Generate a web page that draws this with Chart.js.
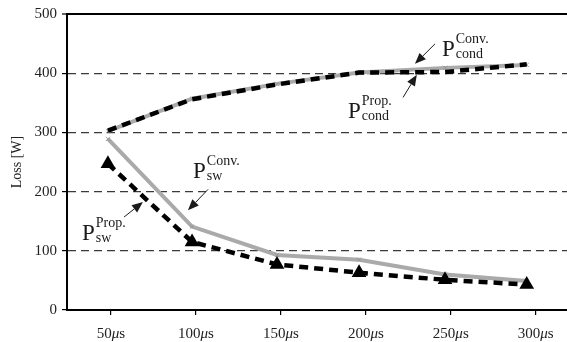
<!DOCTYPE html>
<html><head><meta charset="utf-8">
<script src="https://cdn.jsdelivr.net/npm/chart.js@4.4.1/dist/chart.umd.min.js"></script>
<style>html,body{margin:0;padding:0;background:#fff;overflow:hidden}#wrap{width:567px;height:342px;position:relative;overflow:hidden}</style>
</head><body><div id="wrap"><canvas id="c" width="567" height="342"></canvas></div>
<script>
const xPositions = [48.2, 97.7, 147.7, 196, 246.6, 294.7];
const xTickValues = [50, 100, 150, 200, 250, 300];
const xTickUnitItalic = 'μ';
const xTickUnitRest = 's';
const yTickValues = [0, 100, 200, 300, 400, 500];

const condConv = [302, 357, 382, 401, 409, 414];
const condProp = [303, 356, 381, 401, 402, 415];
const swConv   = [289, 141, 93, 85, 60, 49];
const swProp   = [247, 115, 77, 63, 51, 43];

const yTitle = 'Loss [W]';

// annotation labels: text + anchor and arrow in data coordinates
const annoMain = ['P', 'P', 'P', 'P'];
const annoSup  = ['Conv.', 'Prop.', 'Conv.', 'Prop.'];
const annoSub  = ['cond', 'cond', 'sw', 'sw'];
const annoAt   = [[244.8, 429.3], [189.5, 324.9], [98.3, 222.2], [32.9, 117.8]];
const annoTail = [[240.7, 449.5], [221.9, 359.1], [107.1, 203.7], [57.7, 157.1]];
const annoTip  = [[228.9, 415.8], [230.0, 397.3], [95.3, 168.4], [68.8, 182.3]];

const pts = arr => xPositions.map((x, i) => ({x, y: arr[i]}));
const serif = 'Liberation Serif';

const annoPlugin = {
  id: 'anno',
  afterDatasetsDraw(chart) {
    const {ctx, scales: {x, y}} = chart;
    ctx.save();
    ctx.fillStyle = '#1a1a1a';
    ctx.strokeStyle = '#1a1a1a';
    ctx.textBaseline = 'alphabetic';
    ctx.textAlign = 'left';
    for (let i = 0; i < annoMain.length; i++) {
      const px = x.getPixelForValue(annoAt[i][0]);
      const py = y.getPixelForValue(annoAt[i][1]);
      ctx.font = '23px "Liberation Serif"';
      ctx.fillText(annoMain[i], px, py);
      const w = ctx.measureText(annoMain[i]).width;
      ctx.font = '14px "Liberation Serif"';
      ctx.fillText(annoSup[i], px + w + 1, py - 13);
      ctx.fillText(annoSub[i], px + w + 1, py + 2);
      // arrow
      const tx = x.getPixelForValue(annoTail[i][0]), ty = y.getPixelForValue(annoTail[i][1]);
      const hx = x.getPixelForValue(annoTip[i][0]), hy = y.getPixelForValue(annoTip[i][1]);
      const ang = Math.atan2(hy - ty, hx - tx);
      const L = 11, W = 4.5;
      const bx = hx - L * Math.cos(ang), by = hy - L * Math.sin(ang);
      ctx.lineWidth = 1;
      ctx.beginPath(); ctx.moveTo(tx, ty); ctx.lineTo(bx, by); ctx.stroke();
      ctx.beginPath();
      ctx.moveTo(hx, hy);
      ctx.lineTo(bx + W * Math.sin(ang), by - W * Math.cos(ang));
      ctx.lineTo(bx - W * Math.sin(ang), by + W * Math.cos(ang));
      ctx.closePath(); ctx.fill();
    }
    // x tick labels with italic μ
    const base = x.bottom - 32 + 28;
    xTickValues.forEach(v => {
      const cx = x.getPixelForValue(v);
      const num = String(v);
      ctx.font = '15px "Liberation Serif"';
      const wn = ctx.measureText(num).width;
      const ws = ctx.measureText(xTickUnitRest).width;
      ctx.font = 'italic 15px "Liberation Serif"';
      const wm = ctx.measureText(xTickUnitItalic).width;
      let sx = cx - (wn + wm + ws) / 2;
      ctx.fillStyle = '#222';
      ctx.font = '15px "Liberation Serif"';
      ctx.fillText(num, sx, base); sx += wn;
      ctx.font = 'italic 15px "Liberation Serif"';
      ctx.fillText(xTickUnitItalic, sx, base); sx += wm;
      ctx.font = '15px "Liberation Serif"';
      ctx.fillText(xTickUnitRest, sx, base);
    });
    ctx.restore();
  }
};

new Chart(document.getElementById('c'), {
  type: 'line',
  data: {
    datasets: [
      {label: 'Pcond Prop', data: pts(condProp), borderColor: '#000', borderWidth: 4.5, borderDash: [9, 6],
       pointRadius: 0, tension: 0, order: 1},
      {label: 'Psw Prop', data: pts(swProp), borderColor: '#000', borderWidth: 4.5, borderDash: [9, 6],
       pointStyle: 'triangle', pointRadius: 4, pointBackgroundColor: '#000', pointBorderColor: '#000', tension: 0, order: 1},
      {label: 'Pcond Conv', data: pts(condConv), borderColor: '#aaaaaa', borderWidth: 4,
       pointStyle: 'crossRot', pointRadius: 3, pointBorderColor: '#999', pointBorderWidth: 1, tension: 0, order: 2},
      {label: 'Psw Conv', data: pts(swConv), borderColor: '#aaaaaa', borderWidth: 4,
       pointStyle: 'crossRot', pointRadius: 3, pointBorderColor: '#999', pointBorderWidth: 1, tension: 0, order: 2}
    ]
  },
  options: {
    responsive: false,
    animation: false,
    layout: {autoPadding: false, padding: {top: 13, right: 0, left: 0, bottom: 0}},
    plugins: {legend: {display: false}, tooltip: {enabled: false}},
    scales: {
      x: {
        type: 'linear', min: 24.1, max: 318.4,
        afterBuildTicks: s => { s.ticks = xTickValues.map(v => ({value: v})); },
        afterFit: s => { s.height = 32; s.paddingRight = 0; s.paddingLeft = 0; },
        grid: {drawOnChartArea: false, drawTicks: true, tickLength: 5, color: '#000', tickColor: '#000', lineWidth: 1.2},
        border: {color: '#000', width: 2},
        ticks: {display: false}
      },
      y: {
        min: 0, max: 500,
        afterBuildTicks: s => { s.ticks = yTickValues.map(v => ({value: v})); },
        afterFit: s => { s.width = 67; },
        grid: {
          color: c => (c.tick && c.tick.value === 500) ? '#000' : (c.tick && c.tick.value === 0 ? 'rgba(0,0,0,0)' : '#3a3a3a'),
          lineWidth: c => (c.tick && c.tick.value === 500) ? 2 : 1.2,
          tickLength: 5, tickColor: '#000', tickWidth: 1.2
        },
        border: {color: '#000', width: 2,
                dash: c => (c.tick && (c.tick.value === 500 || c.tick.value === 0)) ? [] : [8, 5]},
        title: {display: true, text: yTitle, font: {family: serif, size: 14}, color: '#222', padding: {top: 9, bottom: 0}},
        ticks: {font: {family: serif, size: 15}, color: '#222', padding: 5}
      }
    }
  },
  plugins: [annoPlugin]
});
</script></body></html>
